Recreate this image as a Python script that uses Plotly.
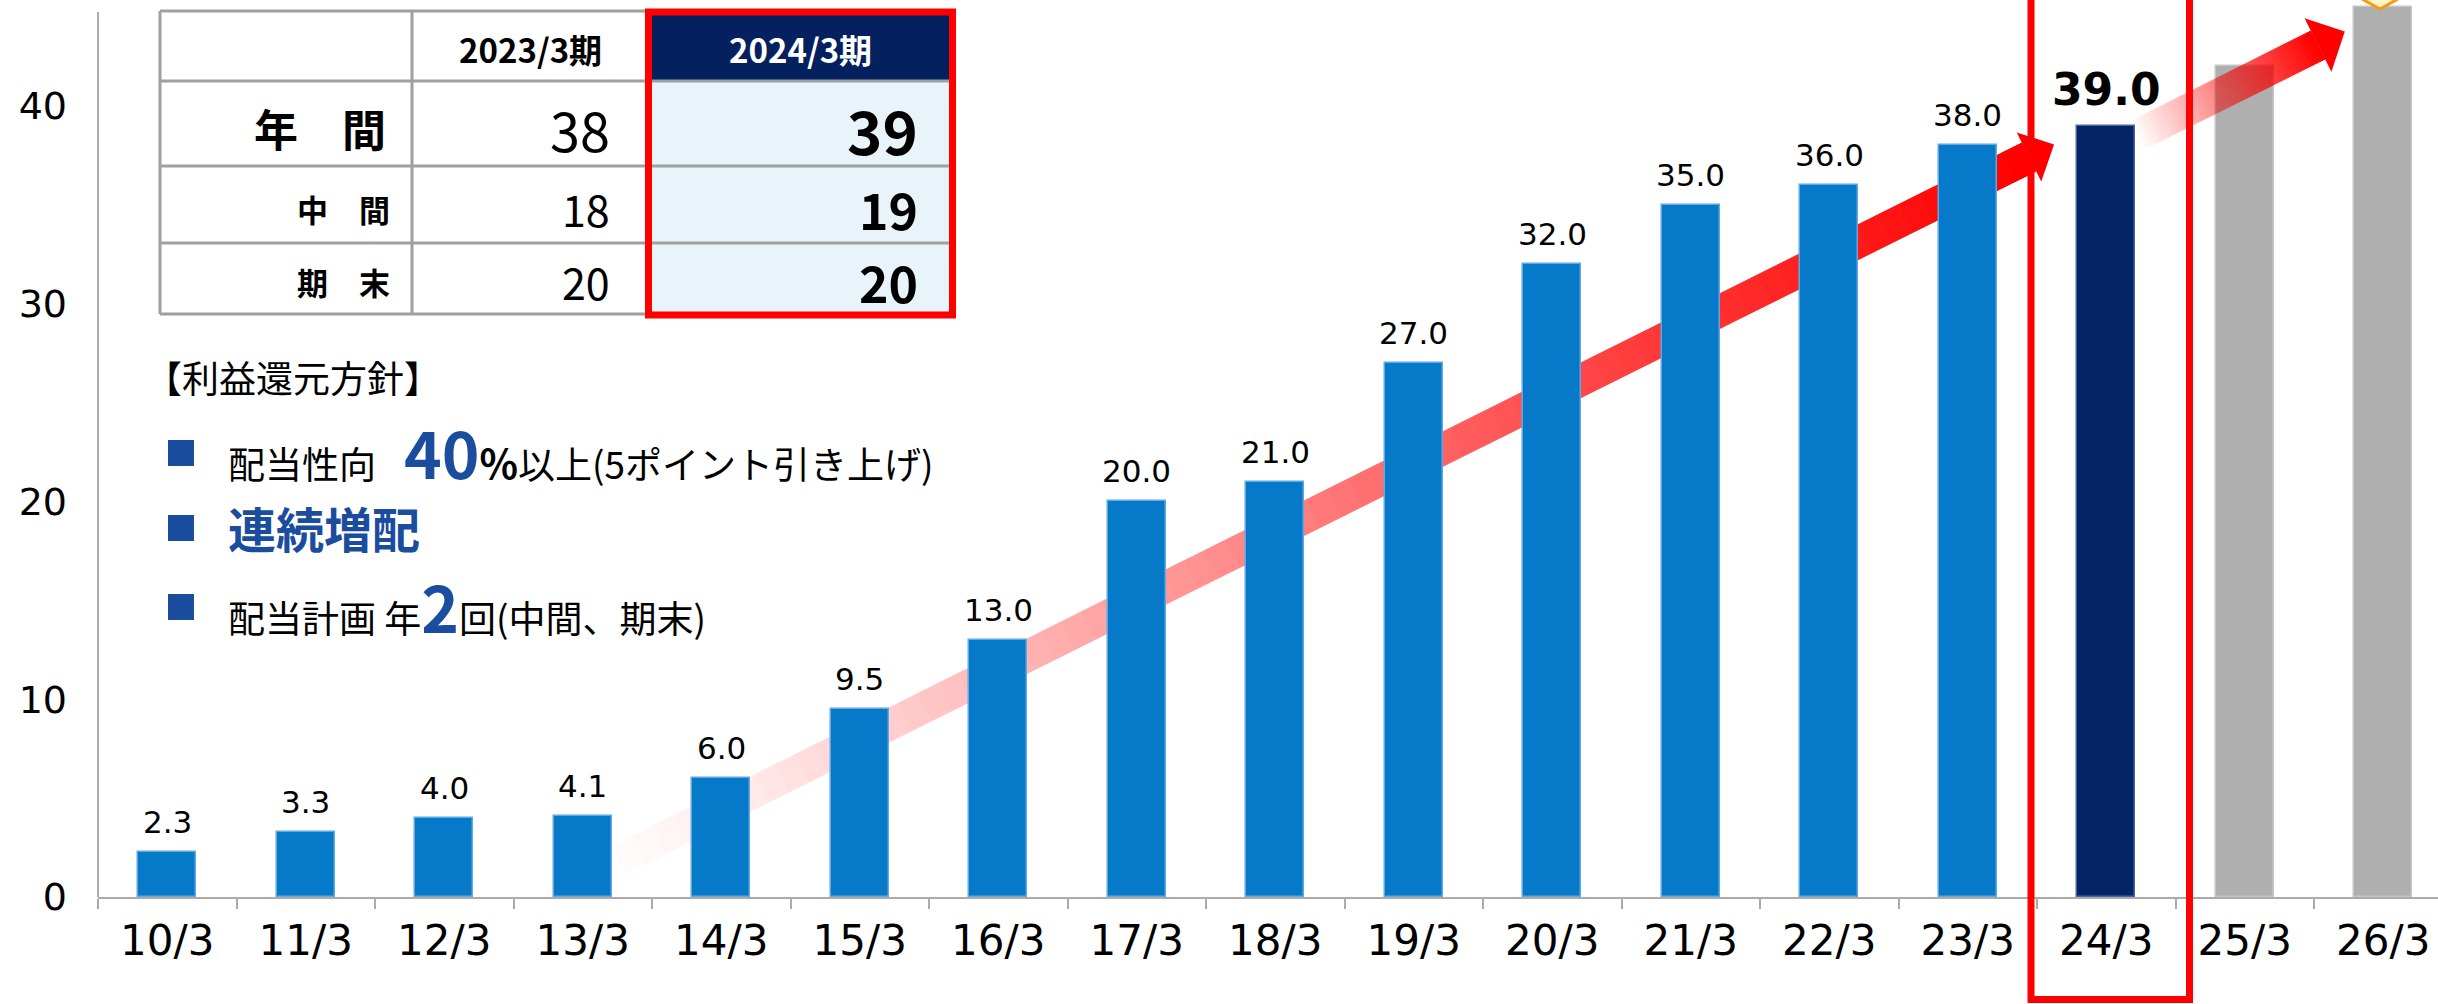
import math
import plotly.graph_objects as go

# ---------------- data ----------------
categories = ["10/3", "11/3", "12/3", "13/3", "14/3", "15/3", "16/3", "17/3", "18/3",
              "19/3", "20/3", "21/3", "22/3", "23/3", "24/3", "25/3", "26/3"]
dividends = [2.3, 3.3, 4.0, 4.1, 6.0, 9.5, 13.0, 20.0, 21.0,
             27.0, 32.0, 35.0, 36.0, 38.0, 39.0, 42.0, 45.0]
value_labels = ["2.3", "3.3", "4.0", "4.1", "6.0", "9.5", "13.0", "20.0", "21.0",
                "27.0", "32.0", "35.0", "36.0", "38.0", "39.0", "", ""]
bar_kinds = ["actual"] * 14 + ["current"] + ["forecast"] * 2
y_ticks = [0, 10, 20, 30, 40]

table_cols = ["2023/3期", "2024/3期"]
table_rows = ["年　間", "中　間", "期　末"]
table_prev = [38, 18, 20]
table_curr = [39, 19, 20]

# ---------------- geometry ----------------
W, H = 2438, 1004
ML, MB = 98, 107
PLOT_W = W - ML
PLOT_H = H - MB
CAT_PX = 138.5
X_MIN = -0.5
X_MAX = X_MIN + PLOT_W / CAT_PX
Y_PX = 19.78
Y_MAX = PLOT_H / Y_PX


def pxx(px):
    return (px - ML) / PLOT_W


def pxy(py):
    return (PLOT_H - py) / PLOT_H


def dx(px):
    return X_MIN + (px - ML) / CAT_PX


def dy(py):
    return (PLOT_H - py) / Y_PX


BAR_COL = {"actual": "#0779C9", "current": "#052466", "forecast": "#AFAFAF"}
BAR_EDGE = {"actual": "#5FA8E2", "current": "#4A66A0", "forecast": "#C6C6C6"}
BLUE_TXT = "#1B4D9F"
JP = "Noto Sans CJK JP"
NUMF = "DejaVu Sans"

fig = go.Figure()
fig.add_trace(go.Bar(
    x=list(range(len(categories))), y=dividends, width=0.42,
    marker=dict(color=[BAR_COL[k] for k in bar_kinds],
                line=dict(color=[BAR_EDGE[k] for k in bar_kinds], width=1.5)),
    hoverinfo="skip", showlegend=False))

shapes = []
annotations = []


def path_from(points):
    s = "M " + " L ".join(f"{dx(px):.5f},{dy(py):.5f}" for px, py in points) + " Z"
    return s


def gradient_arrow(S, B, half_w, head_half, head_len, n, gamma, layer):
    ux, uy = B[0] - S[0], B[1] - S[1]
    L = math.hypot(ux, uy)
    ux, uy = ux / L, uy / L
    nx, ny = -uy, ux
    prevA = 0.0
    for k in range(n):
        t0 = k / n
        A = min(0.995, ((k + 0.5) / n) ** gamma)
        a = 1 - (1 - A) / (1 - prevA)
        prevA = A
        sx, sy = S[0] + ux * L * t0, S[1] + uy * L * t0
        pts = [(sx + nx * half_w, sy + ny * half_w),
               (B[0] + nx * half_w, B[1] + ny * half_w),
               (B[0] - nx * half_w, B[1] - ny * half_w),
               (sx - nx * half_w, sy - ny * half_w)]
        shapes.append(dict(type="path", xref="x", yref="y", path=path_from(pts),
                           fillcolor=f"rgba(255,0,0,{a:.4f})", line=dict(width=0),
                           layer=layer))
    tip = (B[0] + ux * head_len, B[1] + uy * head_len)
    pts = [(B[0] + nx * head_half, B[1] + ny * head_half), tip,
           (B[0] - nx * head_half, B[1] - ny * head_half)]
    shapes.append(dict(type="path", xref="x", yref="y", path=path_from(pts),
                       fillcolor="rgba(255,0,0,1)", line=dict(width=0), layer=layer))


# growth arrows (decoration)
gradient_arrow((598, 870), (2029, 157), 16, 27.5, 28, 70, 1.1, "below")
gradient_arrow((2135, 136.5), (2318, 45), 16, 30, 30, 40, 1.0, "above")

# diamond badge above the last bar (mostly cut off by the top edge)
dcx, dcy, dhw, dhh = 2380, -5, 25, 14
diamond = [(dcx, dcy - dhh), (dcx + dhw, dcy), (dcx, dcy + dhh), (dcx - dhw, dcy)]
shapes.append(dict(type="path", xref="paper", yref="paper",
                   path="M " + " L ".join(f"{pxx(a):.5f},{pxy(b):.5f}" for a, b in diamond) + " Z",
                   fillcolor="#FFF4CC", line=dict(color="#F39C12", width=3), layer="above"))

# y axis line
shapes.append(dict(type="line", xref="paper", yref="paper", x0=0, x1=0,
                   y0=0, y1=pxy(12), line=dict(color="#ABABAB", width=2), layer="above"))

# highlight frame around 24/3
shapes.append(dict(type="rect", xref="paper", yref="paper",
                   x0=pxx(2031), x1=pxx(2189.5), y0=pxy(999.5), y1=pxy(-10),
                   line=dict(color="#FF0000", width=7), fillcolor="rgba(0,0,0,0)",
                   layer="above"))

# ---------------- table ----------------
TX = [160, 412, 648, 952]
TY = [11, 81, 166, 243, 314]
GRID = "#A0A0A0"
shapes.append(dict(type="rect", xref="paper", yref="paper", x0=pxx(TX[0]), x1=pxx(TX[3]),
                   y0=pxy(TY[4]), y1=pxy(TY[0]), fillcolor="white", line=dict(width=0),
                   layer="above"))
shapes.append(dict(type="rect", xref="paper", yref="paper", x0=pxx(TX[2]), x1=pxx(TX[3]),
                   y0=pxy(TY[4]), y1=pxy(TY[1]), fillcolor="#E8F3FA", line=dict(width=0),
                   layer="above"))
shapes.append(dict(type="rect", xref="paper", yref="paper", x0=pxx(TX[2]), x1=pxx(TX[3]),
                   y0=pxy(TY[1]), y1=pxy(TY[0]), fillcolor="#04205F", line=dict(width=0),
                   layer="above"))
for yv in TY:
    shapes.append(dict(type="line", xref="paper", yref="paper", x0=pxx(TX[0]), x1=pxx(TX[3]),
                       y0=pxy(yv), y1=pxy(yv), line=dict(color=GRID, width=3), layer="above"))
for xv in TX[:3]:
    shapes.append(dict(type="line", xref="paper", yref="paper", x0=pxx(xv), x1=pxx(xv),
                       y0=pxy(TY[0]), y1=pxy(TY[4]), line=dict(color=GRID, width=3),
                       layer="above"))
shapes.append(dict(type="rect", xref="paper", yref="paper", x0=pxx(648.5), x1=pxx(952.5),
                   y0=pxy(315), y1=pxy(12), line=dict(color="#FF0000", width=7),
                   fillcolor="rgba(0,0,0,0)", layer="above"))


def ann(text, x, y, size, color="#000000", xanchor="left", family=JP, weight="normal"):
    annotations.append(dict(text=text, x=pxx(x), y=pxy(y), xref="paper", yref="paper",
                            xanchor=xanchor, yanchor="middle", showarrow=False,
                            font=dict(family=family, size=size, color=color, weight=weight)))


ann(table_cols[0], 530, 49, 33, xanchor="center", weight="bold")
ann(table_cols[1], 800, 49, 33, color="#FFFFFF", xanchor="center", weight="bold")
row_y = [128, 208, 281]
lab_size = [44, 31, 31]
prev_size = [54, 43, 43]
curr_size = [60, 50, 50]
lab_right = [388, 392, 392]
for i in range(3):
    ann(table_rows[i], lab_right[i], row_y[i], lab_size[i], xanchor="right", weight="bold")
    ann(str(table_prev[i]), 612, row_y[i], prev_size[i], xanchor="right")
    ann(str(table_curr[i]), 920, row_y[i], curr_size[i], xanchor="right", weight="bold")

# ---------------- policy text ----------------
ann("【利益還元方針】", 143, 377, 37)
for by in [453, 528, 607]:
    shapes.append(dict(type="rect", xref="paper", yref="paper", x0=pxx(168), x1=pxx(194),
                       y0=pxy(by + 13), y1=pxy(by - 13), fillcolor=BLUE_TXT,
                       line=dict(width=0), layer="above"))
ann("配当性向<span style='font-size:28px'>　</span>"
    f"<span style='font-size:64px;color:{BLUE_TXT}'><b>40</b></span>"
    "<span style='font-size:40px'><b>%</b></span>以上(5ポイント引き上げ)", 226, 451, 37)
ann(f"<b>連続増配</b>", 226, 527, 48, color=BLUE_TXT)
ann("配当計画 年"
    f"<span style='font-size:64px;color:{BLUE_TXT}'><b>2</b></span>"
    "回(中間、期末)", 226, 605, 37)

# ---------------- value labels ----------------
for i, (v, lab) in enumerate(zip(dividends, value_labels)):
    if not lab:
        continue
    big = bar_kinds[i] == "current"
    annotations.append(dict(text=lab, x=i, y=v, xref="x", yref="y", xanchor="center",
                            yanchor="bottom", yshift=9 if big else 10, showarrow=False,
                            font=dict(family=NUMF, size=44 if big else 31, color="#000000",
                                      weight="bold" if big else "normal")))

fig.update_layout(
    width=W, height=H,
    margin=dict(l=ML, r=0, t=0, b=MB, pad=0, autoexpand=False),
    paper_bgcolor="white", plot_bgcolor="white",
    showlegend=False, bargap=0,
    xaxis=dict(range=[X_MIN, X_MAX], tickmode="array", automargin=False,
               tickvals=list(range(len(categories))), ticktext=categories,
               ticks="", showline=True, linecolor="#ABABAB", linewidth=2,
               showgrid=False, zeroline=False, ticklabelstandoff=6,
               tickfont=dict(family=NUMF, size=42, color="#000000"),
               minor=dict(tickmode="linear", tick0=0.5, dtick=1, ticks="outside",
                          ticklen=10, tickwidth=2, tickcolor="#ABABAB", showgrid=False)),
    yaxis=dict(range=[0, Y_MAX], tickmode="array", tickvals=y_ticks, ticks="",
               automargin=False, showline=False, showgrid=False, zeroline=False,
               tickfont=dict(family=NUMF, size=38, color="#000000"),
               ticklabelstandoff=30),
    shapes=shapes,
    annotations=annotations,
)

fig.write_html("out.html", config={"displayModeBar": False},
               post_script="document.body.style.margin='0px';"
                           "document.body.style.overflow='hidden';")
